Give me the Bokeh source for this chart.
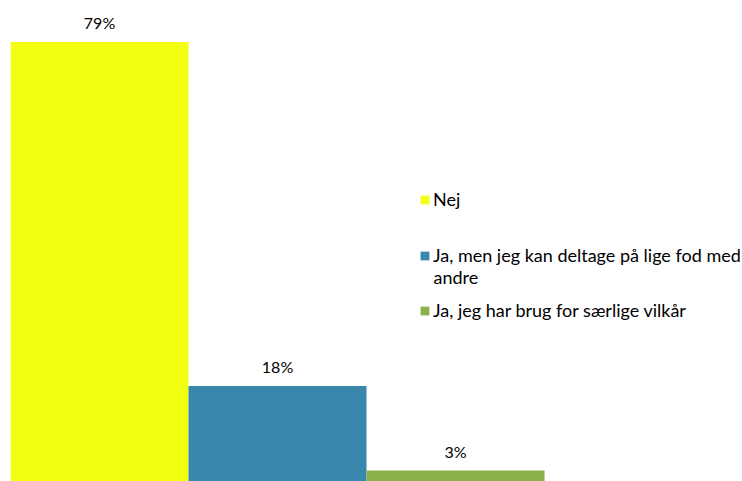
from bokeh.plotting import figure
from bokeh.models import ColumnDataSource, Legend, LegendItem, Range1d, Label
from bokeh.core.properties import value
from bokeh.embed import file_html
from bokeh.resources import INLINE

categories = ["Nej", "Ja, men jeg kan deltage på lige fod med", "Ja, jeg har brug for særlige vilkår"]
category_continuation = "andre"
values = [79, 18, 3]
labels = ["79%", "18%", "3%"]
colors = ["#F3FF12", "#3A87AE", "#8BB14C"]

FONT = "Lato"

src = ColumnDataSource(dict(x=[0, 1, 2], top=values, label=labels, color=colors))

p = figure(width=742, height=481, output_backend="svg", toolbar_location=None,
           x_range=Range1d(-0.5, 3.612), y_range=Range1d(1.06, 86.35),
           min_border_left=10, min_border_right=0, min_border_top=0, min_border_bottom=0)
p.axis.visible = False
p.grid.visible = False
p.outline_line_color = None

renderers = []
for i in range(3):
    r = p.vbar(x=[i], top=[values[i]], bottom=0, width=1.0, fill_color=colors[i], line_color=None)
    renderers.append(r)

p.text(x="x", y="top", text="label", source=src, text_align="center", text_baseline="bottom",
       y_offset=-10, text_font=value(FONT), text_font_size="16px", text_color="#000000")

locs = [(409, 271), (409, 215), (409, 160)]
for i in range(3):
    lg = Legend(items=[LegendItem(label=categories[i], renderers=[renderers[i]])],
                location=locs[i], border_line_color=None, background_fill_alpha=0,
                padding=0, margin=0, glyph_width=11, glyph_height=11, label_standoff=3,
                spacing=0, label_text_font=FONT, label_text_font_size="18px",
                label_text_color="#000000")
    p.add_layout(lg, "center")

p.add_layout(Label(x=423, y=205, x_units="screen", y_units="screen", text=category_continuation,
                   text_font=FONT, text_font_size="18px", text_color="#000000",
                   text_baseline="middle", text_align="left"))

open("out.html", "w").write(file_html(p, INLINE))
